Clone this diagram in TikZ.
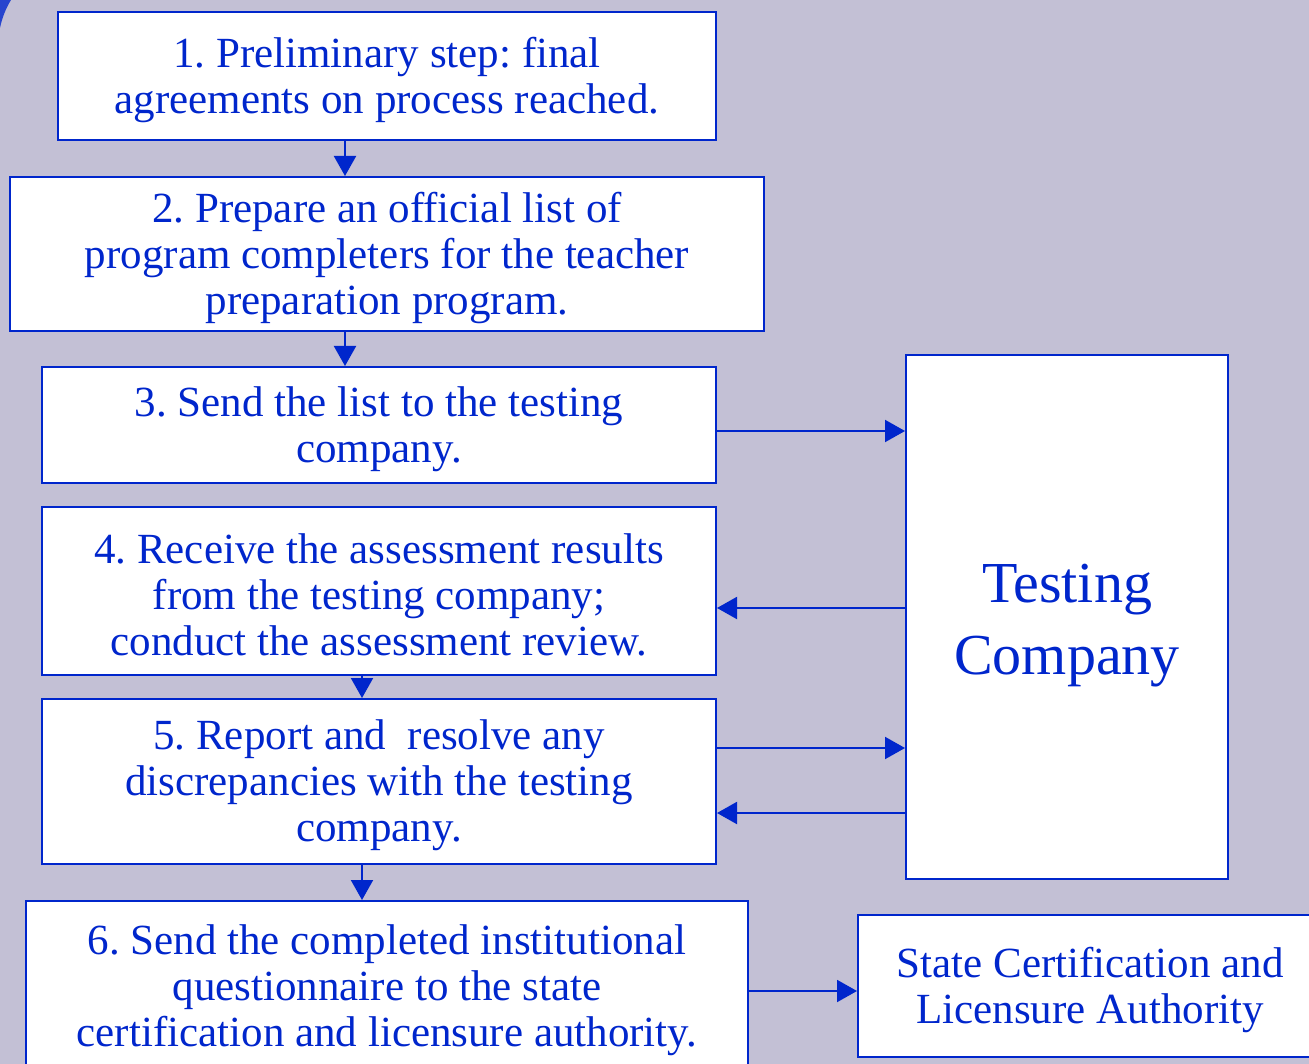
\documentclass[tikz,border=0pt]{standalone}
\usepackage{fontspec}
\setmainfont{Liberation Serif}
\usepackage{xcolor}
\usetikzlibrary{arrows.meta}
\definecolor{flowblue}{RGB}{0,38,204}
\definecolor{slidebg}{RGB}{195,192,213}
\frenchspacing
\newcommand{\lift}[1]{\rule{0pt}{#1}}

\begin{document}
\begin{tikzpicture}[x=1pt, y=-1pt]
		\tikzstyle{every node} = [line width=2pt, draw=flowblue, fill=white, text=flowblue, align=center, inner sep=0pt, font=\fontsize{43}{46}\selectfont]
		\tikzstyle{arr} = [line width=2pt, draw=flowblue, -{Triangle[length=20pt, width=22pt]}]
		\useasboundingbox (0,0) rectangle (1309,1064);
		\fill[slidebg] (0,0) rectangle (1309,1064);
		\fill[flowblue!80!slidebg] (0,0) -- (11,0) .. controls (6,8) and (2,18) .. (0,28) -- cycle;
		\node (s1) at (387, 76) [minimum width=658pt, minimum height=128pt] {\lift{38pt}1. Preliminary step: final\\agreements on process reached.};
		\node (s2) at (387, 254) [minimum width=754pt, minimum height=154pt] {\lift{38pt}2. Prepare an official list of\\program completers for the teacher\\preparation program.};
		\node (s3) at (379, 425) [minimum width=674pt, minimum height=116pt] {\lift{38pt}3. Send the list to the testing\\company.};
		\node (s4) at (379, 591) [minimum width=674pt, minimum height=168pt] {\lift{38pt}4. Receive the assessment results\\from the testing company;\\conduct the assessment review.};
		\node (s5) at (379, 781.5) [minimum width=674pt, minimum height=165pt] {\lift{38pt}5. Report and~ resolve any\\discrepancies with the testing\\company.};
		\node (s6) at (387, 986) [minimum width=722pt, minimum height=170pt] {\lift{38pt}6. Send the completed institutional\\questionnaire to the state\\certification and licensure authority.};
		\node (tc) at (1067, 617) [minimum width=322pt, minimum height=524pt, font=\fontsize{58}{72}\selectfont] {\lift{56pt}Testing\\Company};
		\node (sc) at (1090, 986) [minimum width=464pt, minimum height=142pt] {\lift{38pt}State Certification and\\Licensure Authority};
		\draw [arr] (s1.south -| 345,0) -- (s2.north -| 345,0);
		\draw [arr] (s2.south -| 345,0) -- (s3.north -| 345,0);
		\draw [arr] (s4.south -| 362,0) -- (s5.north -| 362,0);
		\draw [arr] (s5.south -| 362,0) -- (s6.north -| 362,0);
		\draw [arr] (s3.east |- 0,431) -- (tc.west |- 0,431);
		\draw [arr] (tc.west |- 0,608) -- (s4.east |- 0,608);
		\draw [arr] (s5.east |- 0,748) -- (tc.west |- 0,748);
		\draw [arr] (tc.west |- 0,813) -- (s5.east |- 0,813);
		\draw [arr] (s6.east |- 0,991) -- (sc.west |- 0,991);
	\end{tikzpicture}
\end{document}
